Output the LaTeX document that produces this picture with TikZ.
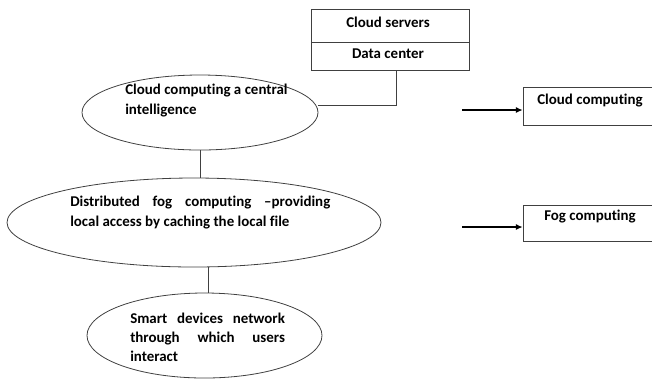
\documentclass[tikz,border=0pt]{standalone}
\usepackage{fontspec}
\setmainfont[Ligatures=NoCommon]{Carlito}
\usetikzlibrary{shapes.geometric,arrows.meta}
\tikzset{
  ln/.style={draw=black!75, line width=0.6pt},
  ell/.style={ellipse, ln, inner sep=0pt},
  rbox/.style={rectangle, ln, inner sep=0pt},
  txt/.style={font=\bfseries\fontsize{11.2}{15}\selectfont, text=black, inner sep=0pt},
  arr/.style={draw=black, line width=0.9pt, -{Latex[length=5pt,width=4.5pt]}}
}
\begin{document}
\begin{tikzpicture}[x=0.75pt,y=-0.75pt]
\useasboundingbox (0,0) rectangle (652,380);
\clip (0,0) rectangle (652,380);
% top boxes
\node[rbox, minimum width=118.5pt, minimum height=24.75pt] (cs) at (390,25.5) {};
\node[rbox, minimum width=118.5pt, minimum height=21pt] (dc) at (390,56) {};
\node[txt] (cst) at (388,22) {Cloud servers};
\node[txt] (dct) at (388,54) {Data center};
% ellipses
\node[ell, minimum width=177pt, minimum height=56.25pt] (e1) at (200,112.5) {};
\node[ell, minimum width=280.5pt, minimum height=66.75pt] (e2) at (194,222.5) {};
\node[ell, minimum width=176.25pt, minimum height=63.75pt] (e3) at (204.5,335.5) {};
\node[txt, anchor=west, align=left] (e1t) at (125,101) {Cloud computing a central\\intelligence};
\node[txt, anchor=west, align=left] (e2t) at (70,213) {\makebox[195pt][s]{Distributed fog computing –providing}\\local access by caching the local file};
\node[txt, anchor=west, align=left, font=\bfseries\fontsize{11.2}{14.25}\selectfont] (e3t) at (130,337) {\makebox[116pt][s]{Smart devices network}\\\makebox[116pt][s]{through which users}\\interact};
% connectors
\coordinate (j) at (396,105);
\draw[ln] (dc.south -| j) -- (j) -- (e1.east |- j);
\draw[ln] (e1.south) -- (e1.south |- e2.north);
\coordinate (j2) at (208,0);
\draw[ln] (e2.south -| j2) -- (e3.north -| j2);
% right boxes
\node[rbox, minimum width=100.5pt, minimum height=28.5pt] (ccb) at (590,106) {};
\node[txt] (cct) at (590,101) {Cloud computing};
\node[rbox, minimum width=100.5pt, minimum height=27pt] (fcb) at (590,223) {};
\node[txt] (fct) at (590,217) {Fog computing};
\coordinate (a1) at (462,110);
\coordinate (a2) at (462,227);
\draw[arr] (a1) -- (ccb.west |- a1);
\draw[arr] (a2) -- (fcb.west |- a2);
\end{tikzpicture}
\end{document}
